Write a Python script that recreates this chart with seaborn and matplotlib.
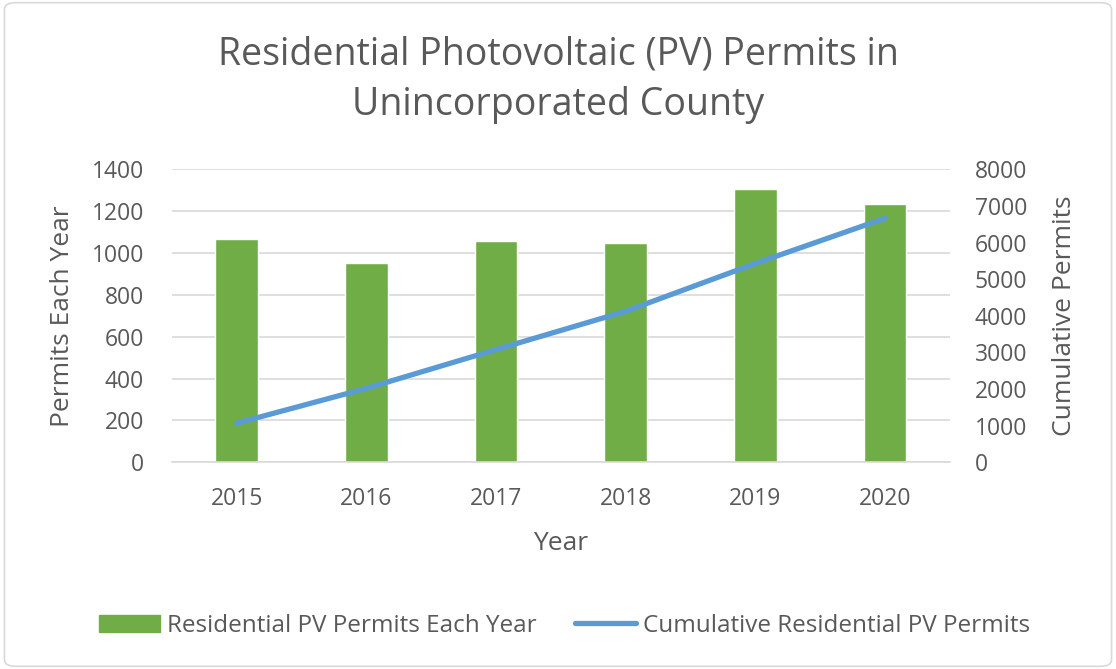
import matplotlib
matplotlib.use("Agg")
import matplotlib.pyplot as plt
import seaborn as sns
import pandas as pd
from matplotlib.patches import Patch, FancyBboxPatch
from matplotlib.lines import Line2D

years = ["2015", "2016", "2017", "2018", "2019", "2020"]
permits_each_year = [1067, 951, 1058, 1046, 1304, 1236]
cumulative_permits = [1067, 2018, 3076, 4122, 5426, 6662]
left_ticks = [0, 200, 400, 600, 800, 1000, 1200, 1400]
right_ticks = [0, 1000, 2000, 3000, 4000, 5000, 6000, 7000, 8000]

df = pd.DataFrame({"Year": years, "Permits": permits_each_year, "Cumulative": cumulative_permits})

sns.set_theme(style="white")
plt.rcParams["font.family"] = ["Open Sans", "DejaVu Sans"]
TXT = "#595959"
GREEN = "#70AD47"
BLUE = "#5B9BD5"

fig = plt.figure(figsize=(11.16, 6.69), dpi=100)
fig.patches.append(FancyBboxPatch((0.004, 0.004), 0.992, 0.992, boxstyle="round,pad=0,rounding_size=0.01",
                                  transform=fig.transFigure, fill=False, edgecolor="#D9D9D9", linewidth=1.2))
ax = fig.add_axes([0.154, 0.309, 0.697, 0.438])

sns.barplot(data=df, x="Year", y="Permits", color=GREEN, saturation=1, width=0.33, ax=ax, zorder=2)
ax.set_ylim(0, 1400)
ax.set_yticks(left_ticks)
ax.yaxis.grid(True, color="#D9D9D9", linewidth=1.2, zorder=0)
ax.set_axisbelow(True)
for s in ["top", "right", "left"]:
    ax.spines[s].set_visible(False)
ax.spines["bottom"].set_color("#D9D9D9")
ax.spines["bottom"].set_linewidth(1.2)
ax.tick_params(axis="y", length=0, labelsize=16.5, colors=TXT, pad=20)
ax.tick_params(axis="x", length=0, labelsize=16.5, colors=TXT, pad=18)
ax.set_xlabel("Year", fontsize=19, color=TXT, labelpad=14)
ax.set_ylabel("Permits Each Year", fontsize=19, color=TXT, labelpad=12)

ax2 = ax.twinx()
sns.lineplot(x=list(range(len(years))), y=cumulative_permits, color=BLUE, linewidth=3.8, ax=ax2,
             solid_capstyle="round", zorder=3)
ax2.set_ylim(0, 8000)
ax2.set_yticks(right_ticks)
for s in ["top", "right", "left", "bottom"]:
    ax2.spines[s].set_visible(False)
ax2.tick_params(axis="y", length=0, labelsize=16.5, colors=TXT, pad=18)
ax2.set_ylabel("Cumulative Permits", fontsize=19, color=TXT, labelpad=18)
ax.set_xlim(-0.5, 5.5)
ax2.set_xlim(-0.5, 5.5)

fig.text(0.5, 0.918, "Residential Photovoltaic (PV) Permits in", ha="center", va="center",
         fontsize=27, color=TXT)
fig.text(0.5, 0.843, "Unincorporated County", ha="center", va="center",
         fontsize=27, color=TXT)

handles = [Patch(facecolor=GREEN, edgecolor=GREEN),
           Line2D([0], [0], color=BLUE, linewidth=3.8, solid_capstyle="round")]
labels = ["Residential PV Permits Each Year", "Cumulative Residential PV Permits"]
leg = fig.legend(handles, labels, loc="center", bbox_to_anchor=(0.506, 0.065), ncol=2, frameon=False,
                 fontsize=17.5, handlelength=2.5, handleheight=0.7, handletextpad=0.3, columnspacing=1.6)
for t in leg.get_texts():
    t.set_color(TXT)

fig.savefig("out.png", dpi=100)
